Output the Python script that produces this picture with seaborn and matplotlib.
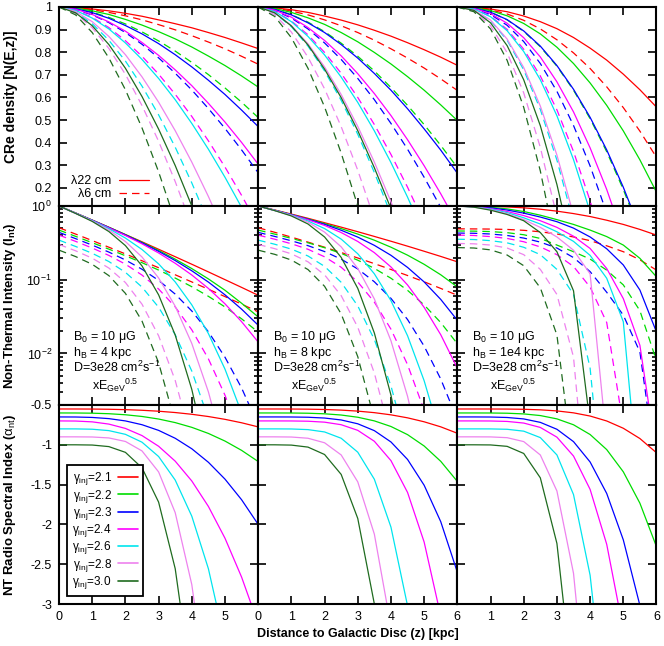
import numpy as np
import pandas as pd
import matplotlib
matplotlib.use("Agg")
import matplotlib.pyplot as plt
import seaborn as sns
from matplotlib.lines import Line2D
from matplotlib.ticker import LogLocator, NullFormatter

nan = np.nan

# distance from the disc [kpc], shared by every curve
z = [0, 0.5, 1, 1.5, 2, 2.5, 3, 3.5, 4, 4.5, 5, 5.5, 6]
gammas = ["2.1", "2.2", "2.3", "2.4", "2.6", "2.8", "3.0"]
colors = ["#ff0000", "#00dd00", "#0000ff", "#ff00ff", "#00e5ee", "#ee82ee", "#1f6b1f"]
scale_heights = ["4", "8", "1e4"]

# --- CRe density N(E,z) ---
dens22_h4 = [
    [1, .997, .991, .983, .972, .959, .943, .926, .908, .887, .865, .841, .816],
    [1, .995, .983, .967, .945, .920, .891, .859, .823, .783, .741, .695, .646],
    [1, .992, .975, .950, .918, .881, .838, .789, .735, .676, .613, .544, .471],
    [1, .990, .967, .934, .893, .843, .786, .722, .652, .574, .491, .401, .305],
    [1, .985, .951, .903, .841, .768, .684, .590, .485, .371, .247, .114, -.028],
    [1, .980, .935, .870, .789, .691, .579, .453, .314, .162, -.003, nan, nan],
    [1, .974, .917, .834, .729, .604, .460, .299, .120, -.076, nan, nan, nan],
]
dens6_h4 = [
    [1, .996, .988, .976, .961, .943, .922, .899, .873, .845, .815, .782, .747],
    [1, .993, .977, .954, .925, .890, .850, .805, .755, .701, .642, .579, .511],
    [1, .989, .965, .931, .887, .835, .775, .707, .633, .551, .463, .368, .267],
    [1, .986, .954, .909, .851, .782, .703, .614, .516, .408, .292, .167, .033],
    [1, .977, .926, .853, .761, .650, .523, .380, .222, .049, nan, nan, nan],
    [1, .972, .908, .817, .702, .564, .406, .228, .031, nan, nan, nan, nan],
    [1, .965, .887, .775, .634, .465, .271, .052, nan, nan, nan, nan, nan],
]
dens22_h8 = [
    [1, .996, .988, .976, .960, .942, .921, .897, .871, .842, .811, .778, .742],
    [1, .993, .976, .952, .923, .887, .846, .799, .748, .692, .632, .567, .498],
    [1, .989, .965, .930, .887, .834, .774, .706, .632, .550, .461, .367, .265],
    [1, .986, .955, .909, .852, .784, .705, .617, .520, .413, .298, .174, .042],
    [1, .980, .935, .870, .788, .690, .578, .452, .312, .159, -.006, nan, nan],
    [1, .975, .918, .837, .735, .613, .472, .314, .139, -.053, nan, nan, nan],
    [1, .974, .916, .832, .725, .599, .453, .289, .108, nan, nan, nan, nan],
]
dens6_h8 = [
    [1, .995, .982, .965, .943, .917, .887, .853, .815, .774, .730, .682, .631],
    [1, .990, .966, .933, .891, .840, .782, .717, .644, .565, .480, .388, .290],
    [1, .985, .951, .903, .841, .768, .684, .590, .485, .371, .247, .114, -.028],
    [1, .981, .938, .877, .799, .707, .600, .480, .348, .203, .046, nan, nan],
    [1, .973, .913, .827, .717, .587, .437, .268, .082, nan, nan, nan, nan],
    [1, .966, .889, .778, .638, .471, .278, .062, nan, nan, nan, nan, nan],
    [1, .958, .864, .729, .558, .354, .120, -.144, nan, nan, nan, nan, nan],
]
dens22_h1e4 = [
    [1, .998, .991, .979, .960, .935, .904, .865, .818, .765, .703, .634, .557],
    [1, .997, .984, .961, .927, .881, .822, .750, .664, .565, .452, .324, .181],
    [1, .995, .977, .944, .894, .827, .741, .636, .512, .368, .203, .017, nan],
    [1, .994, .971, .928, .864, .779, .669, .536, .377, .193, -.018, nan, nan],
    [1, .991, .957, .895, .803, .678, .519, .325, .094, nan, nan, nan, nan],
    [1, .987, .942, .858, .732, .562, .345, .081, nan, nan, nan, nan, nan],
    [1, .985, .930, .829, .678, .475, .215, -.102, nan, nan, nan, nan, nan],
]
dens6_h1e4 = [
    [1, .997, .987, .969, .941, .903, .855, .797, .728, .647, .555, .451, .335],
    [1, .995, .977, .943, .892, .824, .738, .632, .506, .360, .193, .005, nan],
    [1, .993, .967, .919, .847, .750, .627, .476, .297, .089, nan, nan, nan],
    [1, .991, .959, .901, .813, .695, .545, .361, .143, -.111, nan, nan, nan],
    [1, .987, .940, .853, .722, .547, .323, .049, nan, nan, nan, nan, nan],
    [1, .982, .917, .798, .620, .379, .073, nan, nan, nan, nan, nan, nan],
    [1, .979, .903, .764, .556, .275, -.083, nan, nan, nan, nan, nan, nan],
]

# --- non-thermal intensity, stored as log10(I_nt) ---
int22_h4 = [
    [0, -.095, -.191, -.288, -.387, -.486, -.587, -.688, -.790, -.894, -.999, -1.104, -1.211],
    [0, -.096, -.192, -.289, -.389, -.493, -.603, -.721, -.849, -.989, -1.143, -1.319, -1.504],
    [0, -.097, -.194, -.292, -.393, -.500, -.615, -.740, -.879, -1.032, -1.205, -1.399, -1.617],
    [0, -.098, -.196, -.296, -.400, -.513, -.637, -.777, -.936, -1.118, -1.327, -1.569, -1.845],
    [0, -.099, -.199, -.308, -.435, -.590, -.785, -1.030, -1.341, -1.730, -2.213, -2.805, -3.528],
    [0, -.100, -.203, -.325, -.482, -.692, -.976, -1.359, -1.865, -2.521, -3.358, nan, nan],
    [0, -.101, -.209, -.346, -.537, -.813, -1.205, -1.750, -2.488, -3.462, nan, nan, nan],
]
int6_h4 = [
    [-.295, -.381, -.469, -.559, -.650, -.743, -.837, -.933, -1.030, -1.129, -1.229, -1.331, -1.436],
    [-.327, -.412, -.498, -.585, -.675, -.769, -.869, -.977, -1.095, -1.225, -1.369, -1.530, -1.711],
    [-.358, -.443, -.531, -.625, -.732, -.858, -1.009, -1.195, -1.424, -1.706, -2.051, -2.468, -2.973],
    [-.395, -.480, -.570, -.670, -.789, -.937, -1.126, -1.369, -1.680, -2.073, -2.566, -3.171, nan],
    [-.463, -.549, -.642, -.753, -.900, -1.100, -1.373, -1.745, -2.239, -2.883, nan, nan, nan],
    [-.522, -.608, -.708, -.841, -1.038, -1.332, -1.760, -2.366, -3.195, nan, nan, nan, nan],
    [-.599, -.686, -.791, -.944, -1.185, -1.561, -2.126, -2.938, nan, nan, nan, nan, nan],
]
int22_h8 = [
    [0, -.054, -.110, -.167, -.227, -.287, -.349, -.413, -.478, -.545, -.614, -.684, -.757],
    [0, -.058, -.116, -.176, -.239, -.307, -.381, -.464, -.559, -.667, -.791, -.933, -1.098],
    [0, -.059, -.118, -.180, -.249, -.329, -.422, -.534, -.669, -.833, -1.030, -1.267, -1.55],
    [0, -.060, -.120, -.186, -.264, -.360, -.481, -.633, -.827, -1.071, -1.375, -1.746, -2.2],
    [0, -.061, -.124, -.203, -.306, -.449, -.648, -.920, -1.284, -1.760, -2.370, -3.134, nan],
    [0, -.062, -.129, -.220, -.354, -.554, -.847, -1.261, -1.828, -2.581, -3.558, nan, nan],
    [0, -.063, -.135, -.244, -.420, -.697, -1.117, -1.723, -2.565, -3.694, nan, nan, nan],
]
int6_h8 = [
    [-.295, -.357, -.422, -.490, -.559, -.631, -.705, -.782, -.861, -.943, -1.028, -1.118, -1.211],
    [-.327, -.382, -.439, -.499, -.566, -.643, -.735, -.846, -.980, -1.144, -1.342, -1.581, -1.868],
    [-.358, -.413, -.472, -.538, -.618, -.721, -.854, -1.028, -1.253, -1.540, -1.901, -2.347, -2.898],
    [-.395, -.451, -.512, -.587, -.689, -.831, -1.030, -1.304, -1.671, -2.152, -2.770, nan, nan],
    [-.463, -.519, -.585, -.678, -.819, -1.035, -1.355, -1.811, -2.44, -3.28, nan, nan, nan],
    [-.522, -.579, -.649, -.757, -.934, -1.216, -1.644, -2.266, -3.13, nan, nan, nan, nan],
    [-.599, -.656, -.733, -.862, -1.089, -1.463, -2.043, -2.895, nan, nan, nan, nan, nan],
]
int22_h1e4 = [
    [0, -.001, -.0045, -.012, -.025, -.044, -.070, -.103, -.143, -.193, -.250, -.318, -.395],
    [0, -.005, -.018, -.04, -.075, -.125, -.185, -.25, -.327, -.415, -.53, -.71, -.961],
    [0, -.007, -.025, -.055, -.097, -.15, -.213, -.30, -.42, -.58, -.80, -1.14, -1.71],
    [0, -.01, -.035, -.075, -.13, -.2, -.29, -.41, -.576, -.848, -1.256, -1.89, -3.4],
    [0, -.012, -.042, -.09, -.16, -.245, -.35, -.48, -.67, -.98, -1.57, -4.0, nan],
    [0, -.014, -.05, -.105, -.185, -.29, -.42, -.60, -.92, -3.2, nan, nan, nan],
    [0, -.016, -.057, -.115, -.2, -.36, -.62, -1.15, -2.95, nan, nan, nan, nan],
]
int6_h1e4 = [
    [-.31, -.311, -.313, -.318, -.33, -.35, -.38, -.42, -.47, -.54, -.62, -.73, -.87],
    [-.339, -.341, -.347, -.362, -.39, -.44, -.53, -.62, -.72, -.87, -1.07, -1.42, -2.1],
    [-.367, -.37, -.38, -.40, -.435, -.49, -.57, -.70, -.89, -1.17, -1.48, -1.98, -3.6],
    [-.395, -.40, -.415, -.44, -.485, -.555, -.66, -.82, -1.10, -1.58, -2.98, nan, nan],
    [-.451, -.455, -.47, -.50, -.56, -.66, -.86, -1.2, -2.2, -4.5, nan, nan, nan],
    [-.508, -.513, -.53, -.57, -.66, -.86, -1.2, -2.05, -4.5, nan, nan, nan, nan],
    [-.564, -.57, -.595, -.665, -.81, -1.11, -1.75, -3.58, nan, nan, nan, nan, nan],
]

# --- NT radio spectral index ---
alpha_h4 = [
    [-.55, -.5501, -.551, -.5535, -.5583, -.5663, -.5781, -.5947, -.6167, -.6449, -.6802, -.7233, -.775],
    [-.60, -.6004, -.6028, -.6095, -.6226, -.6441, -.6762, -.7211, -.7807, -.8573, -.953, -1.0699, -1.21],
    [-.65, -.6508, -.6563, -.6711, -.70, -.7477, -.8188, -.918, -1.05, -1.2195, -1.4313, -1.69, -2.0],
    [-.70, -.7015, -.7118, -.7398, -.7943, -.8842, -1.0183, -1.2055, -1.4546, -1.7744, -2.1738, -2.6619, -3.247],
    [-.80, -.8003, -.8043, -.8217, -.8686, -.9674, -1.1471, -1.443, -1.897, -2.557, -3.478, nan, nan],
    [-.90, -.9001, -.9018, -.9138, -.958, -1.077, -1.3406, -1.8522, -2.7565, -4.245, nan, nan, nan],
    [-1.0, -1.0001, -1.003, -1.0225, -1.0948, -1.2894, -1.72, -2.556, -4.034, nan, nan, nan, nan],
]
alpha_h8 = [
    [-.55, -.55, -.5506, -.5524, -.5565, -.5642, -.5769, -.5962, -.6237, -.6613, -.711, -.7744, -.855],
    [-.60, -.60, -.6007, -.6034, -.6106, -.6259, -.6538, -.6996, -.77, -.8723, -1.015, -1.2076, -1.46],
    [-.65, -.65, -.6506, -.6538, -.6639, -.6879, -.7361, -.8223, -.9644, -1.1841, -1.5081, -1.9658, -2.6],
    [-.70, -.70, -.7005, -.7037, -.7156, -.7476, -.8183, -.9558, -1.1987, -1.5985, -2.222, -3.151, nan],
    [-.80, -.80, -.8012, -.8092, -.8386, -.9177, -1.0928, -1.4329, -2.034, -3.023, nan, nan, nan],
    [-.90, -.9001, -.9023, -.9177, -.9745, -1.1273, -1.4657, -2.1227, -3.284, nan, nan, nan, nan],
    [-1.0, -1.0001, -1.0038, -1.0289, -1.1219, -1.3719, -1.9253, -3.0, nan, nan, nan, nan, nan],
]
alpha_h1e4 = [
    [-.55, -.55, -.5502, -.5511, -.5539, -.5607, -.5743, -.5986, -.6387, -.7007, -.7922, -.9214, -1.10],
    [-.60, -.60, -.6005, -.6033, -.612, -.6327, -.6742, -.7485, -.8708, -1.0602, -1.3393, -1.7336, -2.28],
    [-.65, -.65, -.6511, -.6569, -.675, -.7182, -.805, -.9602, -1.2158, -1.6112, -2.1943, -3.018, nan],
    [-.70, -.70, -.7008, -.7064, -.7269, -.782, -.9041, -1.1412, -1.5602, -2.2498, -3.325, nan, nan],
    [-.80, -.80, -.8004, -.8051, -.8287, -.9096, -1.1273, -1.6253, -2.639, -4.528, nan, nan, nan],
    [-.90, -.90, -.9009, -.9106, -.9597, -1.1278, -1.5802, -2.615, -4.72, nan, nan, nan, nan],
    [-1.0, -1.0, -1.0017, -1.0194, -1.1088, -1.415, -2.2393, -4.125, nan, nan, nan, nan, nan],
]

sns.set_theme(style="ticks")
plt.rcParams.update({
    "font.family": ["Liberation Sans", "DejaVu Sans"],
    "mathtext.fontset": "custom",
    "mathtext.rm": "Liberation Sans",
    "mathtext.it": "Liberation Sans:italic",
    "mathtext.bf": "Liberation Sans:bold",
    "axes.unicode_minus": False,
    "axes.edgecolor": "black",
    "text.color": "black",
    "axes.labelcolor": "black",
    "xtick.color": "black",
    "ytick.color": "black",
})

palette = dict(zip(gammas, colors))
dash_map = {"22cm": "", "6cm": (6, 4)}


def long_frame(curves, band, log=False):
    rows = []
    for g, vals in zip(gammas, curves):
        for x, v in zip(z, vals):
            if not np.isnan(v):
                rows.append({"z": x, "value": v, "gamma": g, "band": band})
    df = pd.DataFrame(rows)
    if log:
        df["value"] = 10 ** df["value"]
    return df


def draw(ax, frames):
    df = pd.concat(frames, ignore_index=True)
    bands = list(df["band"].unique())
    sns.lineplot(data=df, x="z", y="value", hue="gamma", style="band",
                 hue_order=gammas, style_order=bands, palette=palette,
                 dashes={b: dash_map[b] for b in bands}, estimator=None,
                 sort=False, legend=False, linewidth=0.9, ax=ax)
    ax.set_xlabel("")
    ax.set_ylabel("")


fig, axes = plt.subplots(3, 3, figsize=(6.64, 6.46), dpi=100)
fig.subplots_adjust(left=0.0889, right=0.9887, top=0.9892, bottom=0.065,
                    hspace=0, wspace=0)

dens = [(dens22_h4, dens6_h4), (dens22_h8, dens6_h8), (dens22_h1e4, dens6_h1e4)]
ints = [(int22_h4, int6_h4), (int22_h8, int6_h8), (int22_h1e4, int6_h1e4)]
alphas = [alpha_h4, alpha_h8, alpha_h1e4]

for j in range(3):
    ax = axes[0, j]
    draw(ax, [long_frame(dens[j][0], "22cm"), long_frame(dens[j][1], "6cm")])
    ax.set_ylim(0.12, 1.0)
    ax.set_yticks(np.arange(0.2, 1.01, 0.1))
    ax.set_yticklabels(["0.2", "0.3", "0.4", "0.5", "0.6", "0.7", "0.8", "0.9", "1"])

    ax = axes[1, j]
    ax.set_yscale("log")
    draw(ax, [long_frame(ints[j][0], "22cm", log=True),
              long_frame(ints[j][1], "6cm", log=True)])
    ax.set_ylim(0.002, 1.0)
    ax.yaxis.set_major_locator(LogLocator(base=10, numticks=10))
    ax.yaxis.set_minor_locator(LogLocator(base=10, subs=np.arange(2, 10), numticks=20))
    ax.yaxis.set_minor_formatter(NullFormatter())
    ax.text(0.072, 0.325, "B$_0$ = 10 μG", transform=ax.transAxes, fontsize=9)
    ax.text(0.072, 0.248, "h$_\\mathrm{B}$ = %s kpc" % scale_heights[j],
            transform=ax.transAxes, fontsize=9)
    ax.text(0.072, 0.164, "D=3e28 cm$^\\mathrm{2}$s$^\\mathrm{-1}$",
            transform=ax.transAxes, fontsize=9)
    ax.text(0.165, 0.076, "xE$_\\mathrm{GeV}$$^\\mathrm{0.5}$",
            transform=ax.transAxes, fontsize=9)

    ax = axes[2, j]
    draw(ax, [long_frame(alphas[j], "22cm")])
    ax.set_ylim(-3, -0.5)
    ax.set_yticks([-3, -2.5, -2, -1.5, -1, -0.5])
    ax.set_yticklabels(["-3", "-2.5", "-2", "-1.5", "-1", "-0.5"])

for i in range(3):
    for j in range(3):
        ax = axes[i, j]
        ax.set_xlim(0, 6)
        ax.set_xticks(range(7))
        ax.tick_params(which="both", direction="in", top=True, right=True,
                       width=1.2, labelsize=9, pad=5)
        ax.tick_params(which="major", length=6)
        ax.tick_params(which="minor", length=3)
        for s in ax.spines.values():
            s.set_linewidth(1.5)
        if j > 0:
            ax.tick_params(labelleft=False)
        if i < 2:
            ax.tick_params(labelbottom=False)

axes[2, 0].set_xticklabels(["0", "1", "2", "3", "4", "5", ""])
axes[2, 1].set_xticklabels(["0", "1", "2", "3", "4", "5", "6"])
axes[2, 2].set_xticklabels(["", "1", "2", "3", "4", "5", "6"])

axes[0, 0].set_ylabel("CRe density [N(E,z)]", fontsize=10, fontweight="bold")
axes[1, 0].set_ylabel("Non-Thermal Intensity (I$_\\mathbf{nt}$)", fontsize=9.5,
                      fontweight="bold")
axes[2, 0].set_ylabel("NT Radio Spectral Index ($\\mathrm{\\alpha_{nt}}$)",
                      fontsize=9.5, fontweight="bold")
axes[0, 0].yaxis.set_label_coords(-0.205, 0.55)
axes[1, 0].yaxis.set_label_coords(-0.205, 0.5)
axes[2, 0].yaxis.set_label_coords(-0.205, 0.5)
axes[2, 1].set_xlabel("Distance to Galactic Disc (z) [kpc]", fontsize=9,
                      fontweight="bold")
axes[2, 1].xaxis.set_label_coords(0.5, -0.12)

# wavelength key
band_handles = [Line2D([], [], color=colors[0], lw=0.9),
                Line2D([], [], color=colors[0], lw=0.9, dashes=(6, 4))]
axes[0, 0].legend(band_handles, ["λ22 cm", "\u2007λ6 cm"], loc="lower left",
                  bbox_to_anchor=(0.06, 0.03), borderaxespad=0, borderpad=0,
                  frameon=False, markerfirst=False, handlelength=2.4,
                  handletextpad=0.6, labelspacing=0.05, fontsize=9)

# injection index key
gamma_handles = [Line2D([], [], color=c, lw=1.2) for c in colors]
gamma_labels = ["$\\mathrm{\\gamma_{inj}}$=%s" % g for g in gammas]
leg = axes[2, 0].legend(gamma_handles, gamma_labels, loc="lower left",
                        bbox_to_anchor=(0.04, 0.04), borderaxespad=0,
                        frameon=True, fancybox=False, edgecolor="black",
                        framealpha=1, markerfirst=False, handlelength=1.7,
                        handletextpad=0.5, labelspacing=0.02, fontsize=8.5,
                        borderpad=0.45)
leg.get_frame().set_linewidth(1.3)

fig.savefig("out.png", dpi=100)
